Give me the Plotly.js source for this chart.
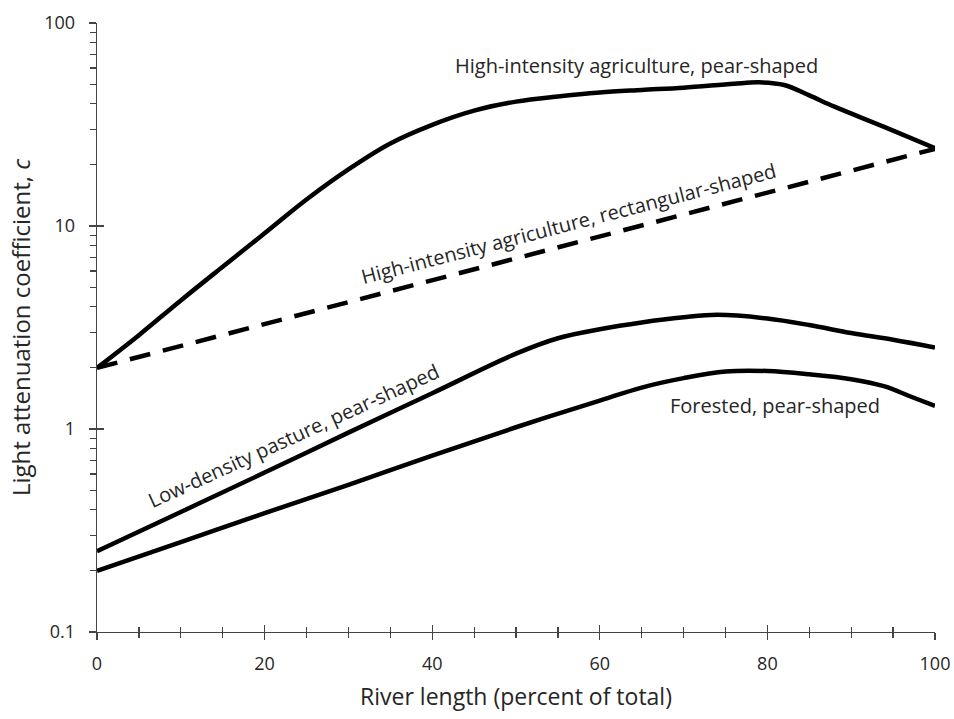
<!DOCTYPE html>
<html>
<head>
<meta charset="utf-8">
<script src="https://cdn.plot.ly/plotly-3.0.1.min.js"></script>
<style>html,body{margin:0;padding:0;background:#fff;}#chart{width:954px;height:719px;}</style>
</head>
<body>
<div id="chart"></div>
<script>
// River length (percent of total) vs light attenuation coefficient c
const highPearX = [0, 5, 10, 15, 20, 25, 30, 35, 40, 45, 50, 55, 60, 65, 70, 76, 79, 82, 85, 88, 94, 100];
const highPearY = [2.0, 2.9, 4.3, 6.3, 9.2, 13.5, 19.0, 25.5, 31.5, 37, 41, 43.5, 45.5, 46.8, 48, 50.2, 51, 49.5, 44, 38.7, 30.7, 24.2];

const highRectX = [0, 100];
const highRectY = [2, 24];

const pastureX = [0, 10, 20, 30, 40, 50, 55, 60, 65, 70, 74, 80, 85, 90, 95, 100];
const pastureY = [0.25, 0.39, 0.61, 0.96, 1.5, 2.35, 2.8, 3.1, 3.35, 3.55, 3.65, 3.5, 3.25, 2.97, 2.75, 2.52];

const forestX = [0, 10, 20, 30, 40, 50, 60, 65, 70, 75, 80, 85, 90, 94, 97, 100];
const forestY = [0.2, 0.277, 0.385, 0.53, 0.74, 1.02, 1.38, 1.6, 1.78, 1.92, 1.93, 1.86, 1.76, 1.62, 1.45, 1.3];

const xMajorTicks = [0, 20, 40, 60, 80, 100];
const xMinorTicks = [5, 10, 15, 25, 30, 35, 45, 50, 55, 65, 70, 75, 85, 90, 95];
const yMajorTicks = [0.1, 1, 10, 100];
const yMajorText = ['0.1', '1', '10', '100'];
const yMinorTicks = [0.2, 0.3, 0.4, 0.5, 0.6, 0.7, 0.8, 0.9, 2, 3, 4, 5, 6, 7, 8, 9, 20, 30, 40, 50, 60, 70, 80, 90];

const labelText = [
  'High-intensity agriculture, pear-shaped',
  'High-intensity agriculture, rectangular-shaped',
  'Low-density pasture, pear-shaped',
  'Forested, pear-shaped'
];
const labelX = [64.4, 56.3, 23.5, 80.9];
const labelYlog = [1.793, 1.01, -0.03, 0.118];
const labelAngle = [0, -14.5, -24.5, 0];

const FONT = '"Open Sans", "Noto Sans", sans-serif';
const lineStyle = {color: '#000', width: 4.5, shape: 'spline', smoothing: 1.0};

const traces = [
  {x: highPearX, y: highPearY, mode: 'lines', line: lineStyle, hoverinfo: 'skip'},
  {x: highRectX, y: highRectY, mode: 'lines', line: {color: '#000', width: 4.5, dash: '21px,13px'}, hoverinfo: 'skip'},
  {x: pastureX, y: pastureY, mode: 'lines', line: lineStyle, hoverinfo: 'skip'},
  {x: forestX, y: forestY, mode: 'lines', line: lineStyle, hoverinfo: 'skip'},
  {x: [], y: [], xaxis: 'x2', yaxis: 'y2', mode: 'lines', hoverinfo: 'skip'}
];

const axColor = '#444';
const txtColor = '#262626';
const layout = {
  width: 954, height: 719,
  margin: {l: 97, r: 19, t: 23, b: 87},
  paper_bgcolor: '#fff', plot_bgcolor: '#fff',
  showlegend: false,
  font: {family: FONT, color: txtColor},
  xaxis: {
    range: [0, 100], tickmode: 'array', tickvals: xMajorTicks,
    showgrid: false, zeroline: false,
    showline: true, linecolor: axColor, linewidth: 1.3,
    ticks: 'outside', ticklen: 7, tickwidth: 1.3, tickcolor: axColor,
    ticklabelstandoff: 8,
    minor: {ticks: 'outside', tickmode: 'array', tickvals: xMinorTicks, ticklen: 5, tickwidth: 1.2, tickcolor: axColor, showgrid: false},
    tickfont: {size: 18, family: FONT, color: txtColor},
    title: {text: 'River length (percent of total)', font: {size: 23, family: FONT, color: txtColor}, standoff: 15}
  },
  xaxis2: {
    overlaying: 'x', anchor: 'y', range: [0, 100], tickmode: 'array', tickvals: xMajorTicks,
    showgrid: false, zeroline: false, showline: false, showticklabels: false,
    ticks: 'inside', ticklen: 7, tickwidth: 1.3, tickcolor: axColor,
    minor: {ticks: 'inside', tickmode: 'array', tickvals: xMinorTicks, ticklen: 5, tickwidth: 1.2, tickcolor: axColor, showgrid: false}
  },
  yaxis: {
    type: 'log', range: [-1, 2], tickmode: 'array',
    tickvals: yMajorTicks, ticktext: yMajorText,
    showgrid: false, zeroline: false,
    showline: true, linecolor: axColor, linewidth: 1.3,
    ticks: 'outside', ticklen: 7, tickwidth: 1.3, tickcolor: axColor,
    ticklabelstandoff: 10,
    minor: {ticks: 'outside', tickmode: 'array', tickvals: yMinorTicks, ticklen: 6, tickwidth: 1.2, tickcolor: axColor, showgrid: false},
    tickfont: {size: 18, family: FONT, color: txtColor},
    title: {text: 'Light attenuation coefficient, <i>c</i>', font: {size: 24, family: FONT, color: txtColor}, standoff: 6}
  },
  yaxis2: {
    type: 'log', overlaying: 'y', anchor: 'x', side: 'left', range: [-1, 2],
    tickmode: 'array', tickvals: yMajorTicks,
    showgrid: false, zeroline: false, showline: false, showticklabels: false,
    ticks: 'inside', ticklen: 7, tickwidth: 1.3, tickcolor: axColor
  },
  annotations: labelText.map((t, i) => ({
    text: t, x: labelX[i], y: labelYlog[i], xref: 'x', yref: 'y',
    showarrow: false, textangle: labelAngle[i],
    font: {size: 20, family: FONT, color: txtColor}
  }))
};

Plotly.newPlot('chart', traces, layout, {staticPlot: true, displayModeBar: false});
</script>
</body>
</html>
